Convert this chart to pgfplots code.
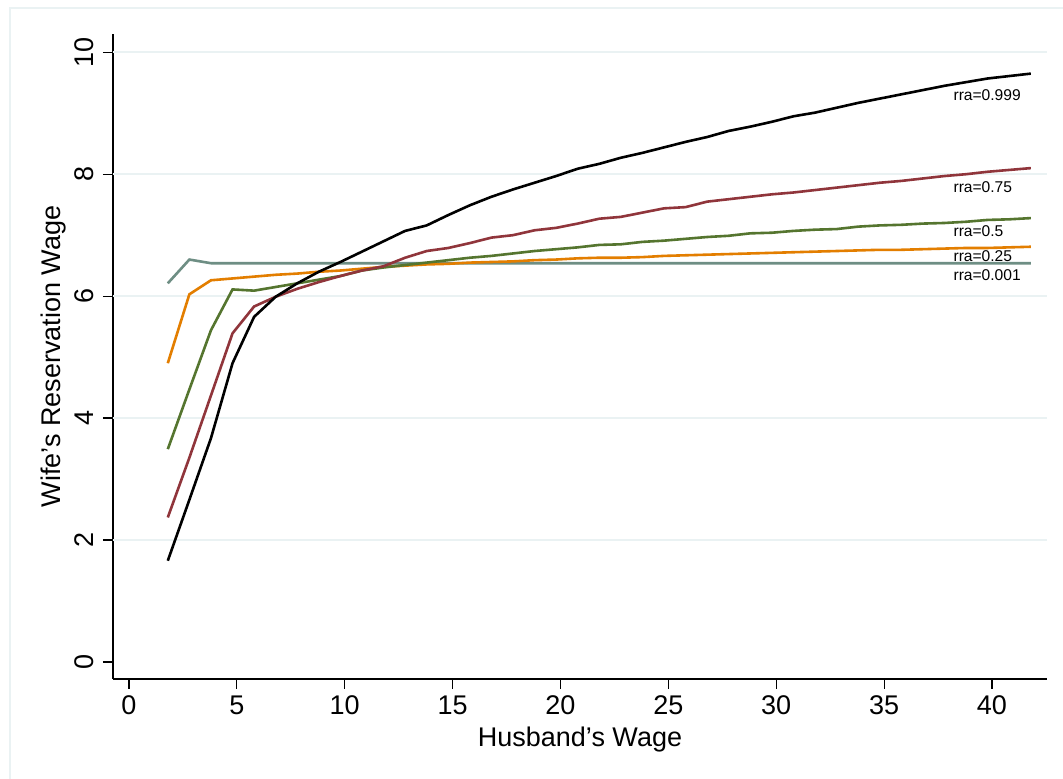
\documentclass[border=0pt]{standalone}
\usepackage{fontspec}
\setmainfont{Liberation Sans}
\usepackage{pgfplots}
\pgfplotsset{compat=1.18}
\usepackage{pgfplotstable}
\definecolor{cA}{RGB}{0,0,0}
\definecolor{cB}{RGB}{144,53,59}
\definecolor{cC}{RGB}{85,117,47}
\definecolor{cD}{RGB}{227,126,0}
\definecolor{cE}{RGB}{110,142,132}
\definecolor{gridc}{RGB}{234,242,243}

\pgfplotstableread{
x b r g o t
1.8 1.66 2.37 3.49 4.90 6.21
2.8 2.66 3.35 4.47 6.03 6.60
3.8 3.67 4.37 5.44 6.26 6.54
4.8 4.90 5.39 6.11 6.29 6.54
5.8 5.66 5.83 6.09 6.32 6.54
6.8 5.99 5.99 6.15 6.35 6.54
7.8 6.21 6.12 6.21 6.37 6.54
8.8 6.40 6.23 6.27 6.40 6.54
9.8 6.56 6.33 6.33 6.42 6.54
10.8 6.73 6.42 6.42 6.45 6.54
11.8 6.90 6.49 6.47 6.48 6.54
12.8 7.07 6.63 6.51 6.50 6.54
13.8 7.16 6.74 6.55 6.52 6.54
14.8 7.33 6.79 6.59 6.53 6.54
15.8 7.49 6.87 6.63 6.55 6.54
16.8 7.63 6.96 6.66 6.56 6.54
17.8 7.75 7.00 6.70 6.57 6.54
18.8 7.86 7.08 6.74 6.59 6.54
19.8 7.97 7.12 6.77 6.60 6.54
20.8 8.09 7.19 6.80 6.62 6.54
21.8 8.17 7.27 6.84 6.63 6.54
22.8 8.27 7.30 6.85 6.63 6.54
23.8 8.35 7.37 6.89 6.64 6.54
24.8 8.44 7.44 6.91 6.66 6.54
25.8 8.53 7.46 6.94 6.67 6.54
26.8 8.61 7.55 6.97 6.68 6.54
27.8 8.71 7.59 6.99 6.69 6.54
28.8 8.78 7.63 7.03 6.70 6.54
29.8 8.86 7.67 7.04 6.71 6.54
30.8 8.95 7.70 7.07 6.72 6.54
31.8 9.01 7.74 7.09 6.73 6.54
32.8 9.09 7.78 7.10 6.74 6.54
33.8 9.17 7.82 7.14 6.75 6.54
34.8 9.24 7.86 7.16 6.76 6.54
35.8 9.31 7.89 7.17 6.76 6.54
36.8 9.38 7.93 7.19 6.77 6.54
37.8 9.45 7.97 7.20 6.78 6.54
38.8 9.51 8.00 7.22 6.79 6.54
39.8 9.57 8.04 7.25 6.79 6.54
40.8 9.61 8.07 7.26 6.80 6.54
41.8 9.65 8.10 7.28 6.81 6.54
}\data

\begin{document}
\begin{tikzpicture}
\path[use as bounding box] (-56.5pt,-50pt) rectangle (475pt,339.5pt);
\fill[white] (-56.5pt,-50pt) rectangle (475pt,339.5pt);
\draw[gridc, line width=1pt] (-51.5pt,-60pt) -- (-51.5pt,335.5pt) -- (490pt,335.5pt);
\begin{axis}[
  at={(0,0)}, anchor=south west,
  scale only axis, width=467pt, height=322.5pt,
  xmin=-0.74, xmax=42.55, ymin=-0.28, ymax=10.30,
  axis x line*=bottom, axis y line*=left,
  axis line style={black, line width=0.7pt},
  xtick={0,5,...,40}, ytick={0,2,...,10},
  tick align=outside, major tick length=5pt,
  tick style={black, line width=0.6pt},
  extra y ticks={2,4,6,8,10}, extra y tick labels={},
  extra y tick style={grid=major, major tick length=0pt, grid style={gridc, line width=1pt}},
  ticklabel style={font=\fontsize{13.5}{16}\selectfont},
  /pgf/number format/assume math mode=true,
  yticklabel style={rotate=90, anchor=south},
  yticklabel shift=1pt,
  label style={font=\fontsize{13.5}{16}\selectfont},
  xlabel={Husband’s Wage},
  ylabel={Wife’s Reservation Wage},
  xlabel style={at={(axis description cs:0.5,-0.094)}, anchor=center},
  ylabel style={at={(axis description cs:-0.0642,0.5)}, anchor=center},
  every axis plot/.append style={line width=1.3pt, mark=none},
  clip=false,
]
\addplot[cE] table[x=x,y=t] {\data};
\addplot[cD] table[x=x,y=o] {\data};
\addplot[cC] table[x=x,y=g] {\data};
\addplot[cB] table[x=x,y=r] {\data};
\addplot[cA] table[x=x,y=b] {\data};
\begin{scope}[every node/.style={anchor=west, inner sep=0pt, font=\fontsize{7.8}{9}\selectfont}]
\node at (axis cs:38.2,9.29) {rra=0.999};
\node at (axis cs:38.2,7.79) {rra=0.75};
\node at (axis cs:38.2,7.07) {rra=0.5};
\node at (axis cs:38.2,6.66) {rra=0.25};
\node at (axis cs:38.2,6.34) {rra=0.001};
\end{scope}
\end{axis}
\end{tikzpicture}
\end{document}
